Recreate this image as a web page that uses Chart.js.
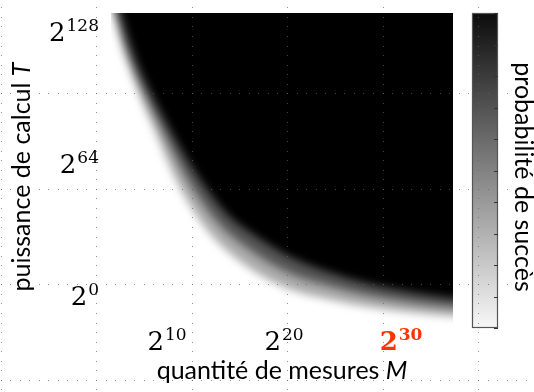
<!DOCTYPE html>
<html>
<head>
<meta charset="utf-8">
<script src="https://cdn.jsdelivr.net/npm/chart.js@4.4.1/dist/chart.umd.min.js"></script>
<style>
    html, body { margin: 0; padding: 0; background: #fff; }
    #wrap { width: 534px; height: 392px; position: relative; }
    canvas { display: block; }
</style>
</head>
<body>
<div id="wrap"><canvas id="heatmap" width="534" height="392" style="width:534px;height:392px"></canvas></div>
<script>
// Axis extents, in log2 units (x = log2 M, y = log2 T)
const xRange = [5.21, 34.44];
const yRange = [-13.6, 137.9];
const xTickExps = [10, 20, 30];
const yTickExps = [0, 64, 128];
const highlightExp = 30;

// Iso-probability curves ({x: log2 M, y: log2 T})
// lightEdge ~ 15 %, midEdge ~ 50 %, darkEdge ~ 85 % success
const lightEdge = [
    {x: 3.87, y: 170}, {x: 5.39, y: 137.4}, {x: 6.12, y: 121.6}, {x: 7.04, y: 106.8},
    {x: 7.90, y: 94.4}, {x: 8.86, y: 82.0}, {x: 10.08, y: 65.4}, {x: 11.34, y: 50.5},
    {x: 13.54, y: 31.7}, {x: 16.34, y: 16.9}, {x: 19.73, y: 5.5}, {x: 23.89, y: -1.2},
    {x: 28.21, y: -5.7}, {x: 34.09, y: -9.2}, {x: 36.0, y: -9.9}
];
const midEdge = [
    {x: 4.13, y: 170}, {x: 5.72, y: 137.9}, {x: 6.49, y: 122.3}, {x: 7.43, y: 107.8},
    {x: 8.37, y: 95.6}, {x: 9.40, y: 83.5}, {x: 10.77, y: 67.5}, {x: 12.13, y: 53.4},
    {x: 14.36, y: 35.9}, {x: 17.09, y: 22.8}, {x: 20.25, y: 12.1}, {x: 24.18, y: 4.9},
    {x: 28.37, y: -0.5}, {x: 34.18, y: -4.9}, {x: 36.0, y: -5.8}
];
const darkEdge = [
    {x: 4.41, y: 170}, {x: 6.06, y: 138.3}, {x: 6.86, y: 123.0}, {x: 7.83, y: 108.7},
    {x: 8.84, y: 96.8}, {x: 9.94, y: 84.9}, {x: 11.45, y: 69.5}, {x: 12.93, y: 56.3},
    {x: 15.18, y: 40.1}, {x: 17.84, y: 28.7}, {x: 20.77, y: 18.8}, {x: 24.47, y: 10.9},
    {x: 28.53, y: 4.8}, {x: 34.28, y: -0.5}, {x: 36.0, y: -1.4}
];

const colorbarTicks = [0, 0.1, 0.2, 0.3, 0.4, 0.5, 0.6, 0.7, 0.8, 0.9, 1];

const xTitle = ['quantité de mesures ', 'M'];
const yTitle = ['puissance de calcul ', 'T'];
const cbTitle = 'probabilité de succès';

const TEXT_FONT = 'Lato, "Open Sans", sans-serif';
const MATH_FONT = '"DejaVu Serif", serif';

// soften the iso-curve steps so the fill reads as a smooth ramp
const softEdges = {
    id: 'softEdges',
    beforeDatasetsDraw(chart) {
        chart.ctx.save();
        chart.ctx.filter = 'blur(4px)';
    },
    afterDatasetsDraw(chart) {
        chart.ctx.restore();
    }
};

function drawPower(ctx, exp, x, baseY, align, red) {
    const weight = red ? 'bold ' : '';
    const baseFont = weight + '26px ' + MATH_FONT;
    const supFont = weight + '17px ' + MATH_FONT;
    ctx.font = baseFont;
    const w1 = ctx.measureText('2').width;
    ctx.font = supFont;
    const w2 = ctx.measureText(String(exp)).width;
    const total = w1 + 1 + w2;
    const x0 = align === 'right' ? x - total : x - total / 2;
    ctx.fillStyle = red ? '#ff3300' : '#000';
    ctx.textAlign = 'left';
    ctx.textBaseline = 'alphabetic';
    ctx.font = baseFont;
    ctx.fillText('2', x0, baseY);
    ctx.font = supFont;
    ctx.fillText(String(exp), x0 + w1 + 1, baseY - 10);
}

function drawTitle(ctx, parts, cx, cy, angle) {
    const plainFont = '25px ' + TEXT_FONT;
    const italFont = 'italic 25px ' + TEXT_FONT;
    ctx.save();
    ctx.translate(cx, cy);
    ctx.rotate(angle);
    ctx.font = plainFont;
    const w1 = ctx.measureText(parts[0]).width;
    ctx.font = italFont;
    const w2 = parts[1] ? ctx.measureText(parts[1]).width : 0;
    const x0 = -(w1 + w2) / 2;
    ctx.fillStyle = '#000';
    ctx.textAlign = 'left';
    ctx.textBaseline = 'alphabetic';
    ctx.font = plainFont;
    ctx.fillText(parts[0], x0, 0);
    if (parts[1]) {
        ctx.font = italFont;
        ctx.fillText(parts[1], x0 + w1, 0);
    }
    ctx.restore();
}

const decorations = {
    id: 'decorations',
    afterDraw(chart) {
        const {ctx, chartArea, scales} = chart;

        // colour bar
        const cbLeft = chartArea.right + 19, cbWidth = 26;
        const cbTop = chartArea.top, cbBottom = chartArea.bottom + 3;
        const grad = ctx.createLinearGradient(0, cbTop, 0, cbBottom);
        grad.addColorStop(0, '#0c0c0c');
        grad.addColorStop(1, '#f8f8f8');
        ctx.fillStyle = grad;
        ctx.fillRect(cbLeft, cbTop, cbWidth, cbBottom - cbTop);
        ctx.strokeStyle = '#555';
        ctx.lineWidth = 1.2;
        ctx.strokeRect(cbLeft + 0.5, cbTop + 0.5, cbWidth - 1, cbBottom - cbTop - 1);
        ctx.strokeStyle = '#333';
        ctx.lineWidth = 1;
        colorbarTicks.forEach(v => {
            const y = Math.round(cbBottom - v * (cbBottom - cbTop)) + 0.5;
            ctx.beginPath();
            ctx.moveTo(cbLeft + cbWidth - 4, y);
            ctx.lineTo(cbLeft + cbWidth, y);
            ctx.stroke();
        });

        // tick labels
        xTickExps.forEach(e => {
            drawPower(ctx, e, scales.x.getPixelForValue(e), 350, 'center', e === highlightExp);
        });
        yTickExps.forEach(e => {
            drawPower(ctx, e, chartArea.left - 12, scales.y.getPixelForValue(e) + 8, 'right', false);
        });

        // axis titles
        drawTitle(ctx, xTitle, 282, 379, 0);
        drawTitle(ctx, yTitle, 30, 177, -Math.PI / 2);
        drawTitle(ctx, [cbTitle], 515, 177, Math.PI / 2);

        // slide guide grid (dotted)
        ctx.fillStyle = 'rgba(100,100,100,0.7)';
        const step = 9.55;
        [0.5, 96, 191.5, 287, 382.5, 478].forEach(gx => {
            for (let y = -2.2; y < 392; y += step) {
                ctx.fillRect(Math.round(gx), Math.round(y), 1, 1);
            }
        });
        [93.3, 188.8, 284.3, 379.8].forEach(gy => {
            for (let x = 0.5; x < 534; x += step) {
                ctx.fillRect(Math.round(x), Math.round(gy), 1, 1);
            }
        });
    }
};

function curveDataset(points, color) {
    return {
        data: points,
        backgroundColor: color,
        borderColor: 'rgba(0,0,0,0)',
        borderWidth: 0,
        pointRadius: 0,
        fill: {value: 400},
        cubicInterpolationMode: 'monotone',
        clip: 0
    };
}

const chart = new Chart(document.getElementById('heatmap'), {
    type: 'line',
    data: {
        datasets: [
            curveDataset(darkEdge, '#000000'),
            curveDataset(midEdge, '#555555'),
            curveDataset(lightEdge, '#aaaaaa')
        ]
    },
    options: {
        responsive: false,
        animation: false,
        events: [],
        layout: {padding: {left: 111, right: 81, top: 13, bottom: 67}},
        scales: {
            x: {type: 'linear', min: xRange[0], max: xRange[1], display: false},
            y: {type: 'linear', min: yRange[0], max: yRange[1], display: false}
        },
        plugins: {
            legend: {display: false},
            tooltip: {enabled: false}
        }
    },
    plugins: [softEdges, decorations]
});
</script>
</body>
</html>
